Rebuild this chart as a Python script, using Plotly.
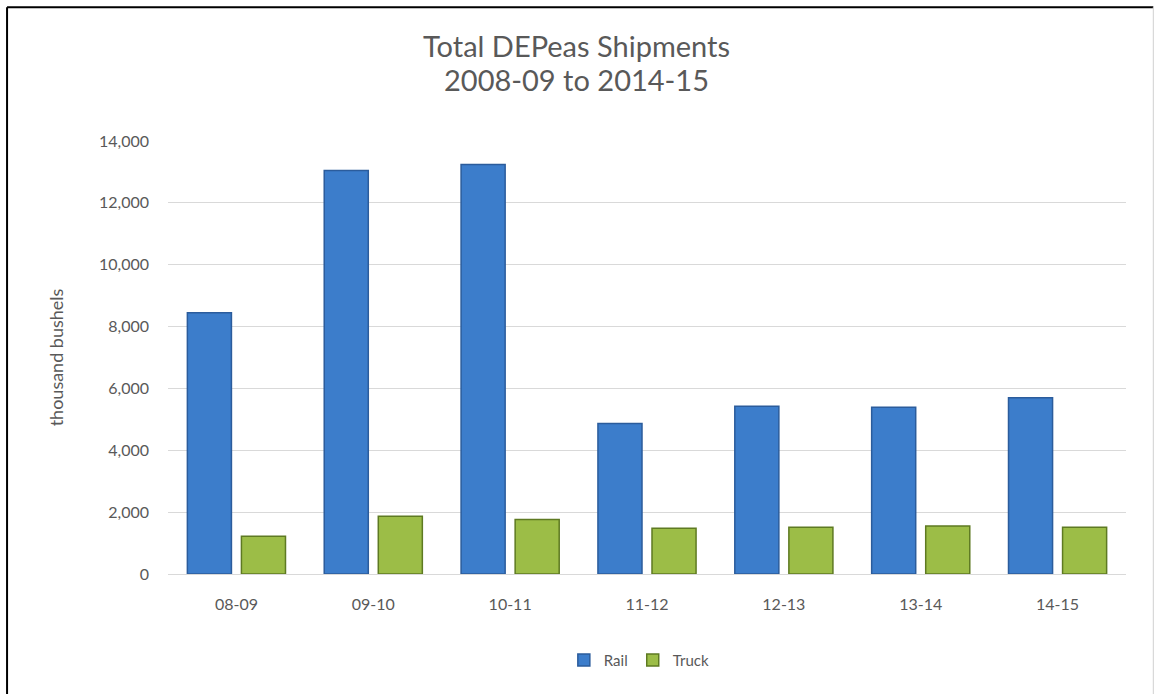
import plotly.graph_objects as go

# Data (thousand bushels)
seasons = ['08-09', '09-10', '10-11', '11-12', '12-13', '13-14', '14-15']
rail = [8450, 13050, 13240, 4870, 5420, 5390, 5700]
truck = [1220, 1870, 1760, 1480, 1510, 1550, 1510]
y_ticks = [0, 2000, 4000, 6000, 8000, 10000, 12000, 14000]
title_lines = ['Total DEPeas Shipments', '2008-09 to 2014-15']

FONT = 'Lato'
GREY_TEXT = '#595959'

fig = go.Figure()

fig.add_trace(go.Bar(
    x=seasons, y=rail, name='Rail',
    marker=dict(color='#3C7DCB', line=dict(color='#2B5C9C', width=1.5)),
))
fig.add_trace(go.Bar(
    x=seasons, y=truck, name='Truck',
    marker=dict(color='#9CBD47', line=dict(color='#5E7A22', width=1.5)),
))

fig.update_layout(
    width=1154, height=694,
    margin=dict(l=168, r=28, t=141, b=120),
    paper_bgcolor='white', plot_bgcolor='white',
    font=dict(family=FONT, color=GREY_TEXT, size=16),
    barmode='group', bargap=0.21, bargroupgap=0.185,
    showlegend=True,
    legend=dict(
        orientation='h', x=0.492, xanchor='center', y=-0.199, yanchor='middle',
        font=dict(family=FONT, size=15, color=GREY_TEXT),
        itemwidth=30, tracegroupgap=0,
    ),
    xaxis=dict(
        type='category',
        showgrid=False, showline=True, linecolor='#D9D9D9', linewidth=1,
        ticks='', ticklabelstandoff=16,
        tickfont=dict(size=16, color=GREY_TEXT),
    ),
    yaxis=dict(
        range=[0, 14000], tickvals=y_ticks, tickformat=',',
        showgrid=True, gridcolor='#D9D9D9', gridwidth=1,
        zeroline=False, showline=False, ticks='', ticklabelstandoff=18,
        tickfont=dict(size=16, color=GREY_TEXT),
        title=dict(text='thousand bushels', standoff=30,
                   font=dict(size=18, color=GREY_TEXT)),
    ),
)

# two-line title, Excel style spacing
for line, ypos in zip(title_lines, [1.2194, 1.1409]):
    fig.add_annotation(
        text=line, xref='paper', yref='paper', x=0.4269, y=ypos,
        xanchor='center', yanchor='middle', showarrow=False,
        font=dict(family=FONT, size=29, color=GREY_TEXT),
    )

# chart frame: black left/top, light grey right edge
fig.add_shape(type='line', xref='paper', yref='paper',
              x0=-0.168, x1=-0.168, y0=1.309, y1=-0.3,
              line=dict(color='black', width=2))
fig.add_shape(type='line', xref='paper', yref='paper',
              x0=-0.168, x1=1.0285, y0=1.309, y1=1.309,
              line=dict(color='black', width=2))
fig.add_shape(type='line', xref='paper', yref='paper',
              x0=1.0285, x1=1.0285, y0=1.309, y1=-0.3,
              line=dict(color='#D0D0D0', width=1))

# drop the default 8px page margin so the figure sits at the window corner
fig.write_html('out.html', config={'displayModeBar': False},
               post_script="document.body.style.margin='0';")
